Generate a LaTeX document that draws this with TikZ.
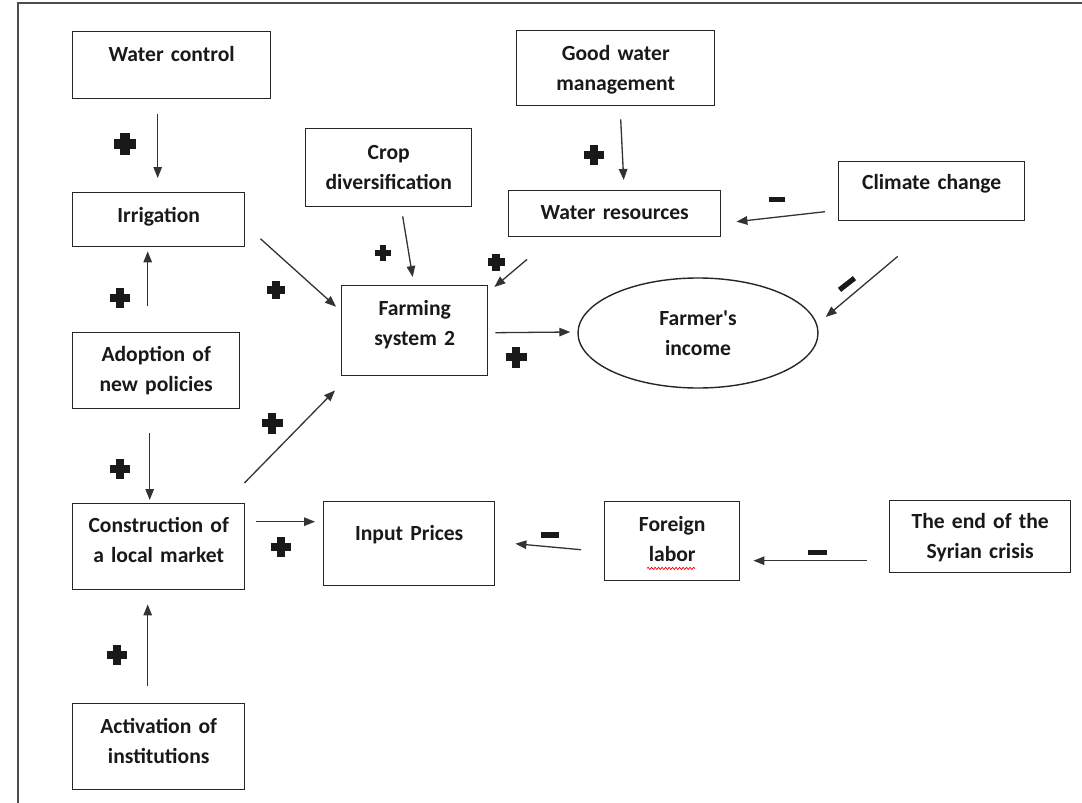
\documentclass[tikz,border=0pt]{standalone}
\usepackage{fontspec}
\setmainfont{Carlito}
\usetikzlibrary{arrows.meta,calc,shapes.geometric,decorations.pathmorphing}

\begin{document}
\begin{tikzpicture}[x=1pt,y=-1pt,
  txt/.style={font=\fontsize{21.6}{30}\selectfont\bfseries, text=black!90},
  box/.style={txt, draw=black!85, line width=1.4pt, anchor=north west,
              inner sep=0pt, align=center},
  link/.style={line width=1.3pt, draw=black!80,
               -{Triangle[length=11pt,width=8.5pt]}},
  pics/pluss/.style={code={
    \fill[black!90] (-#1,-0.42*#1) rectangle (#1,0.42*#1);
    \fill[black!90] (-0.42*#1,-#1) rectangle (0.42*#1,#1);}},
  pics/minuss/.style={code={
    \fill[black!90] (-#1,-2.6) rectangle (#1,2.6);}}
]
\useasboundingbox (0,0) rectangle (1082,803);

% page frame
\draw[line width=2pt, black!70] (18,803) -- (18,3) -- (1082,3);

% boxes
\node[box, text width=198pt, text height=30pt, text depth=37pt] (wc) at (72,31) {Water control};
\node[box, text width=172pt, text height=30pt, text depth=24pt] (irr) at (72,192) {Irrigation};
\node[box, text width=167pt, text height=29pt, text depth=47pt] (adopt) at (72,332) {Adoption of\\new policies};
\node[box, text width=172pt, text height=29pt, text depth=57pt] (constr) at (72,503) {Construction of\\a local market};
\node[box, text width=172pt, text height=30pt, text depth=56pt] (activ) at (72,703) {Activation of\\institutions};
\node[box, text width=166pt, text height=31pt, text depth=47pt] (crop) at (305,128) {Crop\\diversification};
\node[box, text width=198pt, text height=30pt, text depth=45pt] (gwm) at (516,30) {Good water\\management};
\node[box, text width=212pt, text height=29pt, text depth=17pt] (wr) at (508,190) {Water resources};
\node[box, text width=186pt, text height=28pt, text depth=31pt] (cc) at (838,161) {Climate change};
\node[box, text width=146pt, text height=30pt, text depth=60pt] (farm) at (341,285) {Farming\\system 2};
\node[box, text width=171pt, text height=39pt, text depth=45pt] (input) at (323,501) {Input Prices};
\node[box, text width=135pt, text height=30pt, text depth=49pt] (foreign) at (604,501) {Foreign\\labor};
\node[box, text width=181pt, text height=28pt, text depth=44pt] (syria) at (889,500) {The end of the\\Syrian crisis};
\node[txt, ellipse, draw=black!85, line width=1.4pt, minimum width=240pt,
      minimum height=110pt, inner sep=0pt, align=center] (inc) at (698,333)
      {Farmer\textquotesingle s\\income};

% spelling underline under "labor"
\draw[red, line width=0.7pt, decorate,
      decoration={snake, amplitude=1.1pt, segment length=3.5pt}]
  ($(foreign.south west)+(43,-13)$) -- ($(foreign.south west)+(91,-13)$);

% connectors
\draw[link] ($(wc.south)+(-14,15)$) -- ($(irr.north)+(-1,-14)$);
\draw[link] ($(adopt.north)+(-8.5,-26)$) -- ($(irr.south)+(-11,4)$);
\draw[link] ($(adopt.south)+(-6.5,24)$) -- ($(constr.north)+(-9,-3)$);
\draw[link] ($(activ.north)+(-11,-17)$) -- ($(constr.south)+(-11,14)$);
\draw[link] ($(constr.east)+(11,-25)$) -- ($(input.west)+(-8,-22)$);
\draw[link] ($(irr.east)+(15,19)$) -- ($(farm.west)+(-5,-24)$);
\draw[link] ($(constr.north east)+(-1,-20)$) -- ($(farm.south west)+(-6,14)$);
\draw[link] ($(crop.south)+(14,9)$) -- ($(farm.north)+(-2,-8)$);
\draw[link] ($(wr.south west)+(19,22)$) -- ($(farm.north east)+(6,2)$);
\draw[link] ($(gwm.south)+(5,13)$) -- ($(wr.north)+(9,-10)$);
\draw[link] ($(cc.west)+(-13,20.5)$) -- ($(wr.east)+(15,8)$);
\draw[link] ($(cc.south)+(-34,35)$) -- ($(inc.east)+(7,-16)$);
\draw[link] ($(farm.east)+(7,2)$) -- ($(inc.west)+(-7,-1)$);
\draw[link] ($(foreign.west)+(-23,8.5)$) -- ($(input.east)+(20,0)$);
\draw[link] ($(syria.west)+(-22,24)$) -- ($(foreign.east)+(13,19.5)$);

% polarity signs
\pic at (125,144) {pluss=11};
\pic at (120,298) {pluss=10};
\pic at (120,469) {pluss=10};
\pic at (117,655) {pluss=10};
\pic at (281,547) {pluss=10};
\pic at (276,290) {pluss=9};
\pic at (272,423) {pluss=10.5};
\pic at (383,253) {pluss=8};
\pic at (496,262) {pluss=8.5};
\pic at (594,155) {pluss=10};
\pic at (516,357) {pluss=10.5};

\pic at (777,199.5) {minuss=8};
\pic[rotate=38] at (847,284) {minuss=9.5};
\pic at (550,535) {minuss=9};
\pic at (817.5,552.5) {minuss=9.5};
\end{tikzpicture}
\end{document}
